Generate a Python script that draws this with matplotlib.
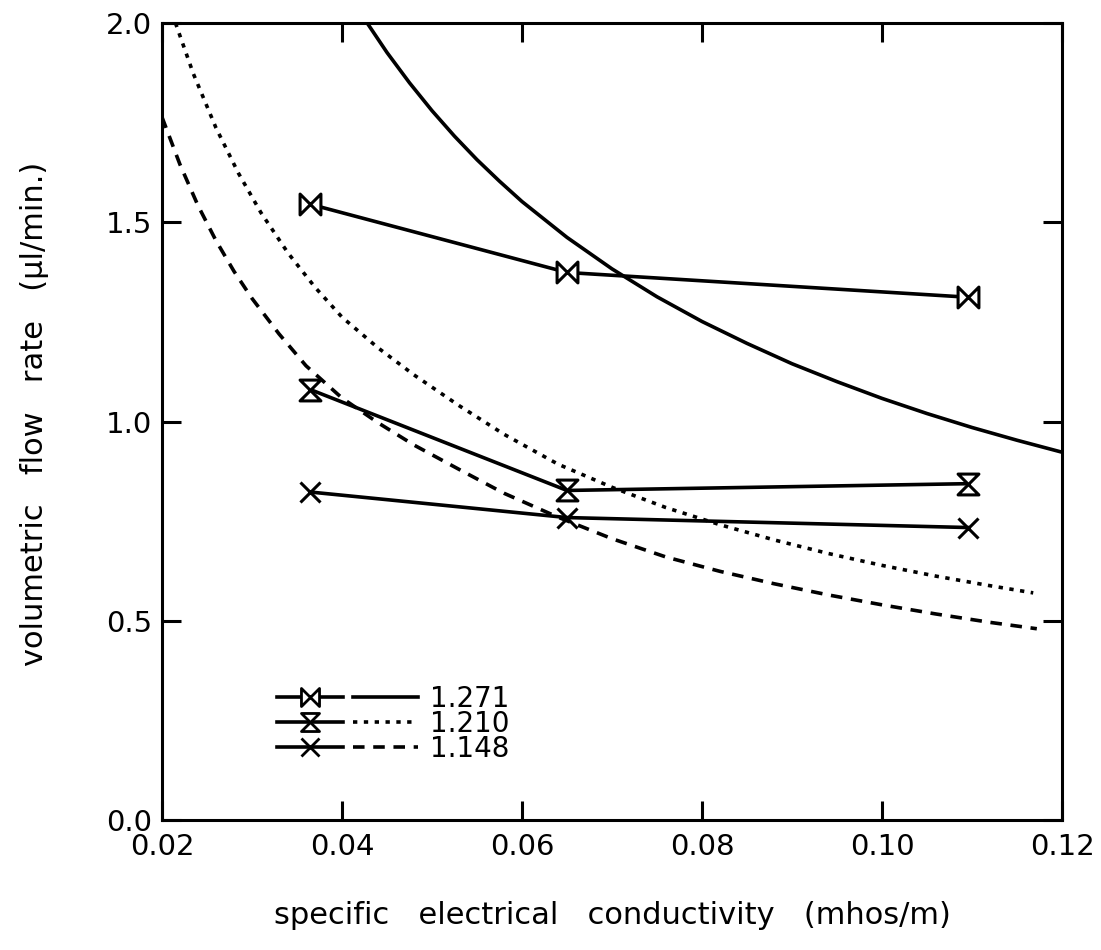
import matplotlib
matplotlib.use("Agg")
import matplotlib.pyplot as plt
from matplotlib.path import Path
from matplotlib.lines import Line2D
from matplotlib.legend_handler import HandlerTuple

plt.rcParams['font.family'] = ['DejaVu Sans']

# measured points (conductivity in mhos/m, flow rate in ul/min)
conductivity = [0.0365, 0.065, 0.1095]
flow_1271 = [1.545, 1.374, 1.312]
flow_1210 = [1.080, 0.827, 0.844]
flow_1148 = [0.823, 0.759, 0.734]

# model curves
model_1271_x = [0.0428, 0.045, 0.0475, 0.050, 0.0525, 0.055, 0.0575, 0.060, 0.065, 0.070,
                0.075, 0.080, 0.085, 0.090, 0.095, 0.100, 0.105, 0.110, 0.115, 0.120]
model_1271_y = [2.0, 1.926, 1.850, 1.780, 1.716, 1.657, 1.603, 1.552, 1.462, 1.383,
                1.313, 1.251, 1.196, 1.145, 1.100, 1.058, 1.020, 0.985, 0.953, 0.923]

model_1210_x = [0.0215, 0.0235, 0.026, 0.0285, 0.031, 0.034, 0.037, 0.040, 0.044, 0.048, 0.053,
                0.058, 0.064, 0.070, 0.076, 0.082, 0.088, 0.094, 0.100, 0.106, 0.112, 0.1168]
model_1210_y = [2.0, 1.872, 1.737, 1.623, 1.524, 1.423, 1.337, 1.262, 1.185, 1.117, 1.040,
                0.968, 0.893, 0.835, 0.784, 0.741, 0.703, 0.669, 0.639, 0.612, 0.588, 0.570]

model_1148_x = [0.020, 0.022, 0.024, 0.026, 0.028, 0.030, 0.033, 0.036, 0.040, 0.044, 0.048, 0.053,
                0.058, 0.064, 0.070, 0.076, 0.082, 0.088, 0.094, 0.100, 0.106, 0.112, 0.1172]
model_1148_y = [1.764, 1.645, 1.542, 1.454, 1.377, 1.309, 1.220, 1.140, 1.059, 0.997, 0.941, 0.880,
                0.820, 0.760, 0.706, 0.660, 0.624, 0.593, 0.565, 0.540, 0.517, 0.496, 0.480]

labels = ['1.271', '1.210', '1.148']
x_ticks = [0.02, 0.04, 0.06, 0.08, 0.10, 0.12]
y_ticks = [0.0, 0.5, 1.0, 1.5, 2.0]

# bowtie and hourglass markers
bowtie = Path([(-1, -1), (-1, 1), (0, 0), (-1, -1), (1, -1), (1, 1), (0, 0), (1, -1)],
              [Path.MOVETO, Path.LINETO, Path.LINETO, Path.CLOSEPOLY,
               Path.MOVETO, Path.LINETO, Path.LINETO, Path.CLOSEPOLY])
hourglass = Path([(-1, 1), (1, 1), (0, 0), (-1, 1), (-1, -1), (1, -1), (0, 0), (-1, -1)],
                 [Path.MOVETO, Path.LINETO, Path.LINETO, Path.CLOSEPOLY,
                  Path.MOVETO, Path.LINETO, Path.LINETO, Path.CLOSEPOLY])

dotted = (0, (1.2, 1.8))
dashed = (0, (3.2, 2.4))
lw = 2.6

fig = plt.figure(figsize=(11.01, 9.50), dpi=100)
ax = fig.add_axes([0.1471, 0.1368, 0.8175, 0.839])

curve = dict(color='black', lw=lw, solid_joinstyle='round', dash_joinstyle='round',
             dash_capstyle='butt')
ax.plot(model_1271_x, model_1271_y, ls='-', **curve)
ax.plot(model_1210_x, model_1210_y, ls=dotted, **curve)
ax.plot(model_1148_x, model_1148_y, ls=dashed, **curve)

mk = dict(color='black', lw=lw, markersize=15, markerfacecolor='white',
          markeredgecolor='black', markeredgewidth=2.2, solid_joinstyle='round')
ax.plot(conductivity, flow_1271, marker=bowtie, **mk)
ax.plot(conductivity, flow_1210, marker=hourglass, **mk)
ax.plot(conductivity, flow_1148, marker='x', **mk)

ax.set_xlim(0.02, 0.12)
ax.set_ylim(0.0, 2.0)
ax.set_xticks(x_ticks)
ax.set_xticklabels(['%.2f' % t for t in x_ticks])
ax.set_yticks(y_ticks)
ax.set_yticklabels(['%.1f' % t for t in y_ticks])
ax.tick_params(direction='in', length=14, width=2.2, labelsize=21,
               top=True, right=True)
ax.tick_params(axis='x', pad=9)
ax.tick_params(axis='y', pad=7)
for s in ax.spines.values():
    s.set_linewidth(2.2)

ax.set_xlabel('specific   electrical   conductivity   (mhos/m)', fontsize=22)
ax.xaxis.set_label_coords(0.5, -0.102)
ax.set_ylabel('volumetric   flow   rate   (\u00b5l/min.)', fontsize=22)
ax.yaxis.set_label_coords(-0.125, 0.51)

# legend: marker line + model line style
handles = []
for marker, style in [(bowtie, '-'), (hourglass, dotted), ('x', dashed)]:
    h1 = Line2D([], [], color='black', lw=lw, marker=marker, markersize=13,
                markerfacecolor='white', markeredgewidth=2.0)
    h2 = Line2D([], [], color='black', lw=lw, ls=style, dash_capstyle='butt')
    handles.append((h1, h2))
ax.legend(handles, labels, handler_map={tuple: HandlerTuple(ndivide=None, pad=0.36)},
          loc='upper left', bbox_to_anchor=(0.128, 0.170), frameon=False,
          fontsize=20, handlelength=5.07, handletextpad=0.43, labelspacing=-0.1,
          borderpad=0, borderaxespad=0)

fig.savefig('out.png', dpi=100)
